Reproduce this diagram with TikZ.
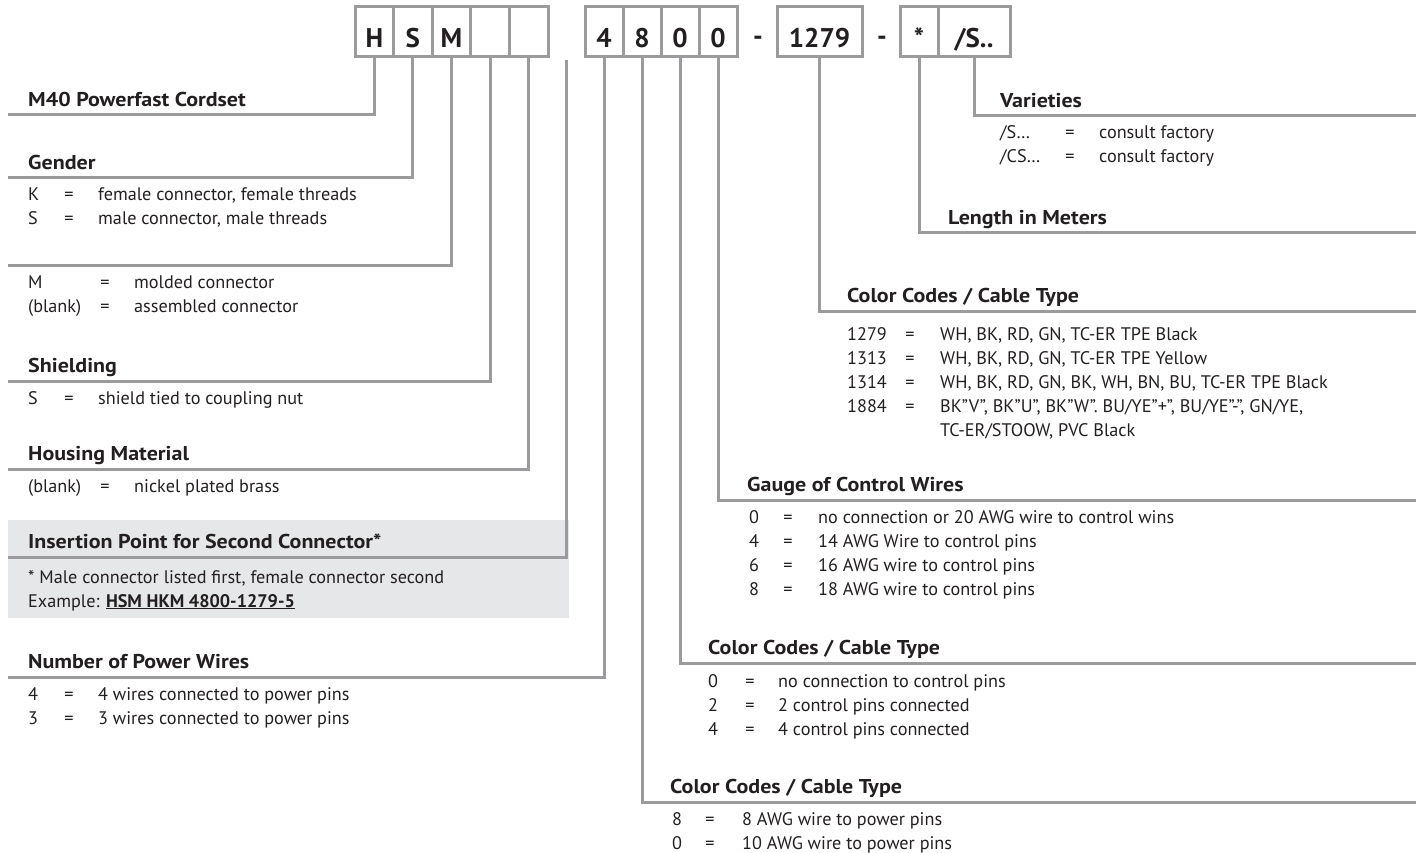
\documentclass[tikz,border=0pt]{standalone}
\usepackage{fontspec}
\setmainfont{PT Sans}
\newfontfamily\hdfont[FakeStretch=1.1]{PT Sans}
\definecolor{lg}{RGB}{155,155,157}
\definecolor{tx}{RGB}{35,31,32}
\definecolor{bgbox}{RGB}{230,231,232}
\begin{document}
\begin{tikzpicture}[x=1pt,y=-1pt,
  conn/.style={draw=lg,line width=3pt},
  cell/.style={draw=lg,line width=3pt,minimum height=50pt,inner sep=0pt,anchor=center},
  lab/.style={anchor=base,inner sep=0pt,font=\fontsize{27}{30}\selectfont\bfseries,text=tx},
  hd/.style={anchor=base west,inner sep=0pt,font=\hdfont\fontsize{20}{24}\selectfont\bfseries,text=tx},
  en/.style={anchor=base west,inner sep=0pt,font=\fontsize{18.2}{21}\selectfont,text=tx},
  eq/.style={anchor=base,inner sep=0pt,font=\fontsize{18.2}{21}\selectfont,text=tx},
]
\useasboundingbox (0,0) rectangle (1416,853);
% grey box
\node[fill=bgbox,minimum width=561pt,minimum height=98pt,anchor=north west,inner sep=0pt] (insbox) at (8,520) {};
% top cells
\node[cell,minimum width=38.6pt] (bH) at (374.3,32) {};
\node[cell,minimum width=38.6pt] (bS) at (412.9,32) {};
\node[cell,minimum width=38.6pt] (bM) at (451.5,32) {};
\node[cell,minimum width=38.6pt] (bXa) at (490.1,32) {};
\node[cell,minimum width=38.6pt] (bXb) at (528.7,32) {};
\node[cell,minimum width=38pt] (bFour) at (604,32) {};
\node[cell,minimum width=38pt] (bEight) at (642,32) {};
\node[cell,minimum width=38pt] (bZa) at (680,32) {};
\node[cell,minimum width=38pt] (bZb) at (718,32) {};
\node[cell,minimum width=85pt] (bLen) at (819.5,32) {};
\node[cell,minimum width=38pt] (bStar) at (919,32) {};
\node[cell,minimum width=72pt] (bVar) at (974,32) {};
\node[lab] (tH) at ([yshift=11pt]bH.south) {H};
\node[lab] (tS) at ([yshift=11pt]bS.south) {S};
\node[lab] (tM) at ([yshift=11pt]bM.south) {M};
\node[lab] (tFour) at ([yshift=11pt]bFour.south) {4};
\node[lab] (tEight) at ([yshift=11pt]bEight.south) {8};
\node[lab] (tZa) at ([yshift=11pt]bZa.south) {0};
\node[lab] (tZb) at ([yshift=11pt]bZb.south) {0};
\node[lab] (tLen) at ([yshift=11pt]bLen.south) {1279};
\node[lab] (tStar) at ([yshift=11pt]bStar.south) {*};
\node[lab] (tVar) at ([yshift=11pt]bVar.south) {/S..};
\node[lab] (dA) at (758,46) {-};
\node[lab] (dB) at (882,46) {-};
% connector end points
\coordinate (cMf) at (8,115);
\coordinate (cGen) at (8,178);
\coordinate (cMol) at (8,265);
\coordinate (cShi) at (8,381);
\coordinate (cHou) at (8,469);
\coordinate (cInsTop) at (566.5,60);
\coordinate (cIns) at (8,557);
\coordinate (cNum) at (8,677);
\coordinate (cVarE) at (1416,116);
\coordinate (cLenE) at (1416,233);
\coordinate (cCa) at (1416,311);
\coordinate (cGau) at (1416,500);
\coordinate (cCb) at (1416,663);
\coordinate (cCc) at (1416,802);
% connectors
\draw[conn] (bH.south) |- (cMf);
\draw[conn] (bS.south) |- (cGen);
\draw[conn] (bM.south) |- (cMol);
\draw[conn] (bXa.south) |- (cShi);
\draw[conn] (bXb.south) |- (cHou);
\draw[conn] (cInsTop) |- (cIns);
\draw[conn] (bFour.south) |- (cNum);
\draw[conn] (bEight.south) |- (cCc);
\draw[conn] (bZa.south) |- (cCb);
\draw[conn] (bZb.south) |- (cGau);
\draw[conn] (bLen.south) |- (cCa);
\draw[conn] (bStar.south) |- (cLenE);
\draw[conn] (bVar.south) |- (cVarE);
% left headings and entries
\node[hd] (hMf) at (28,106.5) {M40 Powerfast Cordset};
\node[hd] (hGen) at (28,169.5) {Gender};
\node[en] (gK) at (28,201) {K};
\node[eq] (gKe) at (69,201) {=};
\node[en] (gKv) at (98,201) {female connector, female threads};
\node[en] (gS) at (28,225) {S};
\node[eq] (gSe) at (69,225) {=};
\node[en] (gSv) at (98,225) {male connector, male threads};
\node[en] (mM) at (28,288) {M};
\node[eq] (mMe) at (105,288) {=};
\node[en] (mMv) at (134,288) {molded connector};
\node[en] (mB) at (28,312) {(blank)};
\node[eq] (mBe) at (105,312) {=};
\node[en] (mBv) at (134,312) {assembled connector};
\node[hd] (hShi) at (28,372.5) {Shielding};
\node[en] (sS) at (28,404) {S};
\node[eq] (sSe) at (69,404) {=};
\node[en] (sSv) at (98,404) {shield tied to coupling nut};
\node[hd] (hHou) at (28,460.5) {Housing Material};
\node[en] (hB) at (28,492) {(blank)};
\node[eq] (hBe) at (105,492) {=};
\node[en] (hBv) at (134,492) {nickel plated brass};
\node[hd] (hIns) at (28,548.5) {Insertion Point for Second Connector*};
\node[en] (iA) at (28,583) {* Male connector listed first, female connector second};
\node[en] (iB) at (28,607) {Example: \underline{\textbf{HSM HKM 4800-1279-5}}};
\node[hd] (hNum) at (28,668.5) {Number of Power Wires};
\node[en] (nA) at (28,700) {4};
\node[eq] (nAe) at (69,700) {=};
\node[en] (nAv) at (98,700) {4 wires connected to power pins};
\node[en] (nB) at (28,724) {3};
\node[eq] (nBe) at (69,724) {=};
\node[en] (nBv) at (98,724) {3 wires connected to power pins};
% right headings and entries
\node[hd] (hVar) at (1000,107.5) {Varieties};
\node[en] (vA) at (1000,139) {/S…};
\node[eq] (vAe) at (1070,139) {=};
\node[en] (vAv) at (1099,139) {consult factory};
\node[en] (vB) at (1000,163) {/CS…};
\node[eq] (vBe) at (1070,163) {=};
\node[en] (vBv) at (1099,163) {consult factory};
\node[hd] (hLen) at (948,224.5) {Length in Meters};
\node[hd] (hCa) at (847,302.5) {Color Codes / Cable Type};
\node[en] (aA) at (847,340) {1279};
\node[eq] (aAe) at (910,340) {=};
\node[en] (aAv) at (940,340) {WH, BK, RD, GN, TC-ER TPE Black};
\node[en] (aB) at (847,364) {1313};
\node[eq] (aBe) at (910,364) {=};
\node[en] (aBv) at (940,364) {WH, BK, RD, GN, TC-ER TPE Yellow};
\node[en] (aC) at (847,388) {1314};
\node[eq] (aCe) at (910,388) {=};
\node[en] (aCv) at (940,388) {WH, BK, RD, GN, BK, WH, BN, BU, TC-ER TPE Black};
\node[en] (aD) at (847,412) {1884};
\node[eq] (aDe) at (910,412) {=};
\node[en] (aDv) at (940,412) {BK”V”, BK”U”, BK”W”. BU/YE”+”, BU/YE”-”, GN/YE,};
\node[en] (aE) at (940,436) {TC-ER/STOOW, PVC Black};
\node[hd] (hGau) at (747,491.5) {Gauge of Control Wires};
\node[en] (gA) at (749,523) {0};
\node[eq] (gAe) at (788,523) {=};
\node[en] (gAv) at (818,523) {no connection or 20 AWG wire to control wins};
\node[en] (gB) at (749,547) {4};
\node[eq] (gBe) at (788,547) {=};
\node[en] (gBv) at (818,547) {14 AWG Wire to control pins};
\node[en] (gC) at (749,571) {6};
\node[eq] (gCe) at (788,571) {=};
\node[en] (gCv) at (818,571) {16 AWG wire to control pins};
\node[en] (gD) at (749,595) {8};
\node[eq] (gDe) at (788,595) {=};
\node[en] (gDv) at (818,595) {18 AWG wire to control pins};
\node[hd] (hCb) at (708,654.5) {Color Codes / Cable Type};
\node[en] (bA) at (708,687) {0};
\node[eq] (bAe) at (750,687) {=};
\node[en] (bAv) at (778,687) {no connection to control pins};
\node[en] (bB) at (708,711) {2};
\node[eq] (bBe) at (750,711) {=};
\node[en] (bBv) at (778,711) {2 control pins connected};
\node[en] (bC) at (708,735) {4};
\node[eq] (bCe) at (750,735) {=};
\node[en] (bCv) at (778,735) {4 control pins connected};
\node[hd] (hCc) at (670,793.5) {Color Codes / Cable Type};
\node[en] (cA) at (672,825) {8};
\node[eq] (cAe) at (710,825) {=};
\node[en] (cAv) at (742,825) {8 AWG wire to power pins};
\node[en] (cB) at (672,849) {0};
\node[eq] (cBe) at (710,849) {=};
\node[en] (cBv) at (742,849) {10 AWG wire to power pins};
\end{tikzpicture}
\end{document}
